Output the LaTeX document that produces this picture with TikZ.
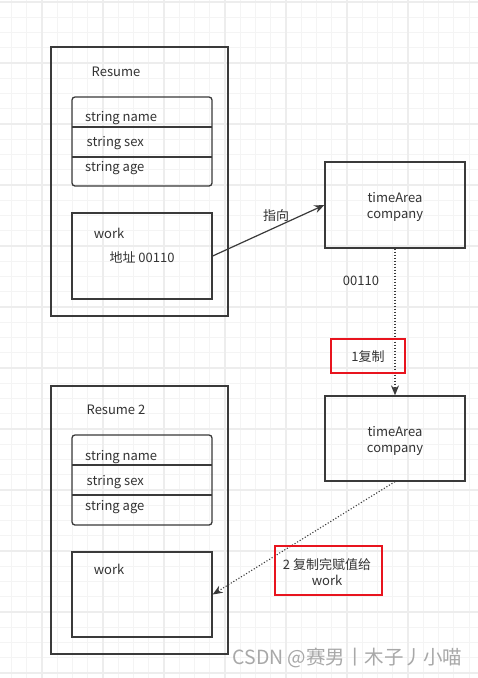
\documentclass[tikz,border=0pt]{standalone}
\usepackage{fontspec}
\setmainfont{Noto Sans CJK SC}
\usetikzlibrary{arrows.meta}
\definecolor{ln}{HTML}{3A3A3A}
\definecolor{tx}{HTML}{333333}
\definecolor{gminor}{HTML}{F4F4F4}
\definecolor{gmajor}{HTML}{EDEDED}
\definecolor{redb}{HTML}{E8141E}
\definecolor{wm}{HTML}{A8A8A8}
\tikzset{
  box/.style={draw=ln, line width=1.3pt, rectangle, inner sep=0pt},
  rbox/.style={draw=ln, line width=1.3pt, rectangle, rounded corners=3pt, inner sep=0pt},
  redbox/.style={draw=redb, line width=1.5pt, rectangle, inner sep=0pt},
  lbl/.style={text=tx, font=\fontsize{13}{16}\selectfont, inner sep=0pt, align=center},
  arr/.style={draw=ln, line width=1.2pt, -{Stealth[length=10pt,width=8pt]}},
  darr/.style={draw=ln, line width=1.1pt, dash pattern=on 1.1pt off 1.9pt, -{Stealth[length=10pt,width=8pt,sep=0pt]}},
}
\begin{document}
\begin{tikzpicture}[x=1pt,y=-1pt]
\useasboundingbox (0,0) rectangle (478,678);
\fill[white] (0,0) rectangle (478,678);
% grid
\foreach \k in {-2,...,28} \draw[gminor, line width=1pt] ({42+15.25*\k},0) -- ({42+15.25*\k},678);
\foreach \k in {0,...,44} \draw[gminor, line width=1pt] (0,{2+15.25*\k}) -- (478,{2+15.25*\k});
\foreach \k in {0,...,7} \draw[gmajor, line width=1.2pt] ({42+61*(\k-1)},0) -- ({42+61*(\k-1)},678);
\foreach \k in {0,...,11} \draw[gmajor, line width=1.2pt] (0,{2+61*\k}) -- (478,{2+61*\k});

% Resume 1
\node[box, minimum width=177pt, minimum height=269pt] (r1) at (139.5,181.5) {};
\node[lbl] (r1t) at (116,72) {Resume};
\node[rbox, minimum width=140pt, minimum height=89pt] (f1) at (142,141.5) {};
\coordinate (f1a) at (72,127); \coordinate (f1b) at (212,127);
\coordinate (f1c) at (72,157); \coordinate (f1d) at (212,157);
\draw[ln, line width=1.3pt] (f1a) -- (f1b) (f1c) -- (f1d);
\node[lbl, anchor=west] (n1) at (85,118.5) {string name};
\node[lbl, anchor=west] (s1) at (86.5,143.5) {string sex};
\node[lbl, anchor=west] (a1) at (85,168.5) {string age};
\node[box, minimum width=140pt, minimum height=86pt] (w1) at (142,256) {};
\node[lbl] (w1t) at (109,233) {work};
\node[lbl] (w1a) at (142,257.5) {地址 00110};

% timeArea 1
\node[box, minimum width=140pt, minimum height=86pt] (t1) at (395,205) {};
\node[lbl] (t1t) at (395,207) {timeArea\\company};

% Resume 2
\node[box, minimum width=177pt, minimum height=268pt] (r2) at (139.5,520) {};
\node[lbl] (r2t) at (116,409.5) {Resume 2};
\node[rbox, minimum width=140pt, minimum height=90pt] (f2) at (142,480) {};
\coordinate (f2a) at (72,465); \coordinate (f2b) at (212,465);
\coordinate (f2c) at (72,495); \coordinate (f2d) at (212,495);
\draw[ln, line width=1.3pt] (f2a) -- (f2b) (f2c) -- (f2d);
\node[lbl, anchor=west] (n2) at (85,457.5) {string name};
\node[lbl, anchor=west] (s2) at (86.5,482.5) {string sex};
\node[lbl, anchor=west] (a2) at (85,507.5) {string age};
\node[box, minimum width=140pt, minimum height=85pt] (w2) at (142,594.5) {};
\node[lbl] (w2t) at (109,569.5) {work};

% timeArea 2
\node[box, minimum width=140pt, minimum height=85pt] (t2) at (395,438.5) {};
\node[lbl] (t2t) at (395,440.5) {timeArea\\company};

% connectors
\draw[arr] (w1.east) -- (t1.west);
\node[lbl] (zx) at (276,216) {指向};
\draw[darr] (t1.south) -- (t2.north);
\node[lbl] (addr) at (361,280.5) {00110};
\node[redbox, minimum width=74pt, minimum height=34pt] (c1) at (368,356) {};
\node[lbl] (c1t) at (368,356.5) {1复制};
\draw[darr] (t2.south) -- (w2.east);
\node[redbox, minimum width=107pt, minimum height=49pt] (c2) at (328.5,570.5) {};
\node[lbl] (c2t) at (327,572.5) {2 复制完赋值给\\work};

% watermark
\node[text=wm, font=\fontsize{19.5}{21}\selectfont, inner sep=0pt] (wmk) at (347.5,658) {CSDN @赛男丨木子丿小喵};
\end{tikzpicture}
\end{document}
